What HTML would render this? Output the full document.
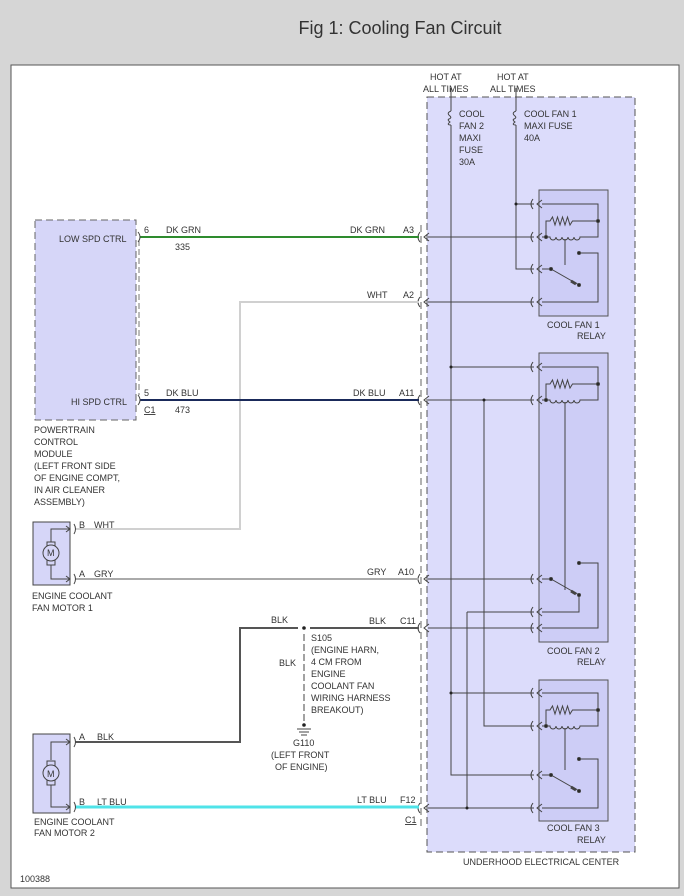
<!DOCTYPE html>
<html><head><meta charset="utf-8"><style>
html,body{margin:0;padding:0;background:#d6d6d6;}
body{width:684px;height:896px;position:relative;overflow:hidden;font-family:"Liberation Sans",sans-serif;}
#t{position:absolute;left:0;top:18px;width:800px;text-align:center;font-size:18px;color:#333;}
svg{position:absolute;left:0;top:0}
text{font-family:"Liberation Sans",sans-serif;font-size:9px;fill:#333}
</style></head><body>
<div id="t">Fig 1: Cooling Fan Circuit</div>
<svg width="684" height="896" viewBox="0 0 684 896">
<defs>
<g id="hk" fill="none" stroke="#444" stroke-width="1"><path d="M-4,-5 Q-8,0 -4,5"/><path d="M5,-4 L0,0 L5,4"/></g>
<g id="coil" fill="none" stroke="#444" stroke-width="1">
<path d="M542,0 H546 V-16 H550 l2.5,-4 l2.5,8 l2.5,-8 l2.5,8 l2.5,-8 l2.5,8 l2.5,-8 l2.5,8 l2.5,-4 H598"/>
<path d="M546,0 H550 a3,3 0 0 0 6,0 a3,3 0 0 0 6,0 a3,3 0 0 0 6,0 a3,3 0 0 0 6,0 a3,3 0 0 0 6,0 H598 V-33 H542"/>
<circle cx="546" cy="0" r="1.5" fill="#222"/><circle cx="598" cy="-16" r="1.5" fill="#222"/>
</g>
<g id="sw" fill="none" stroke="#444" stroke-width="1">
<path d="M542,0 H551 L579,16"/><circle cx="551" cy="0" r="1.5" fill="#222"/><circle cx="579" cy="16" r="1.5" fill="#222"/>
<path d="M571,12 l5,3" stroke-width="3"/>
<circle cx="579" cy="-16" r="1.5" fill="#222"/>
</g>
</defs>
<rect x="11" y="65" width="668" height="823" fill="#fff" stroke="#555"/>
<rect x="427" y="97" width="208" height="755" fill="#dcdcfb" stroke="#555" stroke-dasharray="7,4"/>
<line x1="421" y1="225" x2="421" y2="830" stroke="#666" stroke-dasharray="7,4"/>
<rect x="539" y="190" width="69" height="126" fill="#cdcdf6" stroke="#555"/>
<rect x="539" y="353" width="69" height="289" fill="#cdcdf6" stroke="#555"/>
<rect x="539" y="680" width="69" height="141" fill="#cdcdf6" stroke="#555"/>
<g fill="none" stroke="#444" stroke-width="1">
<path d="M451,88 V111 M451,125 V775 H534"/>
<path d="M451,111 q-5,2 -1,5 q2,2 -1,3 q-2,1 1,3 q-4,3 1,3"/>
<path d="M516,88 V111 M516,125 V269 H534 M516,204 H534"/>
<path d="M516,111 q-5,2 -1,5 q2,2 -1,3 q-2,1 1,3 q-4,3 1,3"/>
<path d="M451,367 H534 M451,693 H534"/>
<path d="M428,237 H534 M428,302 H534 M428,400 H534 M484,400 V726 H534"/>
<path d="M428,579 H534 M428,628 H534 M467,612 H534 M467,612 V808 M428,808 H534"/>
<path d="M565,239 V265 M579,253 H598 V302 H542" stroke-dasharray="none"/>
<path d="M565,402 V590 M579,563 H598 V628 H542 M579,595 V612 H542"/>
<path d="M565,728 V770 M579,759 H598 V808 H542"/>
</g>
<circle cx="516" cy="204" r="1.5" fill="#222"/><circle cx="451" cy="367" r="1.5" fill="#222"/><circle cx="484" cy="400" r="1.5" fill="#222"/><circle cx="451" cy="693" r="1.5" fill="#222"/><circle cx="467" cy="808" r="1.5" fill="#222"/>
<use href="#coil" y="237"/><use href="#coil" y="400"/><use href="#coil" y="726"/>
<use href="#sw" y="269"/><use href="#sw" y="579"/><use href="#sw" y="775"/>
<g>
<use href="#hk" x="537" y="204"/><use href="#hk" x="537" y="237"/><use href="#hk" x="537" y="269"/><use href="#hk" x="537" y="302"/>
<use href="#hk" x="537" y="367"/><use href="#hk" x="537" y="400"/><use href="#hk" x="537" y="579"/><use href="#hk" x="537" y="612"/><use href="#hk" x="537" y="628"/>
<use href="#hk" x="537" y="693"/><use href="#hk" x="537" y="726"/><use href="#hk" x="537" y="775"/><use href="#hk" x="537" y="808"/>
<use href="#hk" x="424" y="237"/><use href="#hk" x="424" y="302"/><use href="#hk" x="424" y="400"/><use href="#hk" x="424" y="579"/><use href="#hk" x="424" y="628"/><use href="#hk" x="424" y="808"/>
</g>
<line x1="140" y1="237" x2="419" y2="237" stroke="#2e8b2e" stroke-width="2"/>
<path d="M419,302 H240 V529 H75" fill="none" stroke="#d0d0d0" stroke-width="2"/>
<line x1="140" y1="400" x2="419" y2="400" stroke="#1a2a5a" stroke-width="2"/>
<line x1="75" y1="579" x2="419" y2="579" stroke="#aaa" stroke-width="2"/>
<line x1="310" y1="628" x2="419" y2="628" stroke="#555" stroke-width="2"/>
<path d="M298,628 H240 V742 H75" fill="none" stroke="#555" stroke-width="2"/>
<line x1="75" y1="807" x2="419" y2="807" stroke="#4fe3e8" stroke-width="3"/>
<circle cx="304" cy="628" r="1.8" fill="#222"/>
<line x1="304" y1="634" x2="304" y2="724" stroke="#444" stroke-dasharray="7,3"/>
<circle cx="304" cy="725" r="1.8" fill="#222"/>
<path d="M297,729 H311 M299,732 H309 M301,735 H307" stroke="#444"/>
<rect x="35" y="220" width="101" height="200" fill="#d6d6f8" stroke="#666" stroke-dasharray="7,4"/>
<line x1="139" y1="240" x2="139" y2="395" stroke="#777" stroke-dasharray="6,3"/>
<path d="M138,232 q4,5 0,10 M138,395 q4,5 0,10" fill="none" stroke="#444"/>
<g fill="none" stroke="#444">
<rect x="33" y="522" width="37" height="63" fill="#d6d6f8"/>
<path d="M51,542 V529 H70 M66,526 l4,3 l-4,3 M51,565 V579 H70 M66,576 l4,3 l-4,3"/>
<rect x="47" y="542" width="8" height="23" fill="#d6d6f8"/><circle cx="51" cy="553" r="8" fill="#d6d6f8"/>
<path d="M74,524 q3,5 0,10 M74,574 q3,5 0,10"/>
<rect x="33" y="734" width="37" height="79" fill="#d6d6f8"/>
<path d="M51,760 V742 H70 M66,739 l4,3 l-4,3 M51,785 V807 H70 M66,804 l4,3 l-4,3"/>
<rect x="47" y="761" width="8" height="24" fill="#d6d6f8"/><circle cx="51" cy="773" r="8" fill="#d6d6f8"/>
<path d="M74,737 q3,5 0,10 M74,802 q3,5 0,10"/>
</g>
<text x="47" y="556" font-size="8">M</text><text x="47" y="777" font-size="8">M</text>
<text x="430" y="80">HOT AT</text><text x="423" y="92">ALL TIMES</text>
<text x="497" y="80">HOT AT</text><text x="490" y="92">ALL TIMES</text>
<text x="459" y="117">COOL</text><text x="459" y="129">FAN 2</text><text x="459" y="141">MAXI</text><text x="459" y="153">FUSE</text><text x="459" y="165">30A</text>
<text x="524" y="117">COOL FAN 1</text><text x="524" y="129">MAXI FUSE</text><text x="524" y="141">40A</text>
<text x="547" y="328">COOL FAN 1</text><text x="577" y="339">RELAY</text>
<text x="547" y="654">COOL FAN 2</text><text x="577" y="665">RELAY</text>
<text x="547" y="831">COOL FAN 3</text><text x="577" y="843">RELAY</text>
<text x="463" y="865">UNDERHOOD ELECTRICAL CENTER</text>
<text x="403" y="233">A3</text><text x="403" y="298">A2</text><text x="399" y="396">A11</text><text x="398" y="575">A10</text><text x="400" y="624">C11</text><text x="400" y="803">F12</text>
<text x="405" y="823" text-decoration="underline">C1</text>
<text x="350" y="233">DK GRN</text><text x="367" y="298">WHT</text><text x="353" y="396">DK BLU</text><text x="367" y="575">GRY</text><text x="369" y="624">BLK</text><text x="357" y="803">LT BLU</text>
<text x="59" y="242">LOW SPD CTRL</text><text x="71" y="405">HI SPD CTRL</text>
<text x="144" y="233">6</text><text x="166" y="233">DK GRN</text><text x="175" y="250">335</text>
<text x="144" y="396">5</text><text x="166" y="396">DK BLU</text><text x="175" y="413">473</text>
<text x="144" y="413" text-decoration="underline">C1</text>
<text x="34" y="433">POWERTRAIN</text><text x="34" y="445">CONTROL</text><text x="34" y="457">MODULE</text><text x="34" y="469">(LEFT FRONT SIDE</text><text x="34" y="481">OF ENGINE COMPT,</text><text x="34" y="493">IN AIR CLEANER</text><text x="34" y="505">ASSEMBLY)</text>
<text x="79" y="528">B</text><text x="94" y="528">WHT</text><text x="79" y="577">A</text><text x="94" y="577">GRY</text>
<text x="32" y="599">ENGINE COOLANT</text><text x="32" y="611">FAN MOTOR 1</text>
<text x="271" y="623">BLK</text><text x="279" y="666">BLK</text>
<text x="311" y="641">S105</text><text x="311" y="653">(ENGINE HARN,</text><text x="311" y="665">4 CM FROM</text><text x="311" y="677">ENGINE</text><text x="311" y="689">COOLANT FAN</text><text x="311" y="701">WIRING HARNESS</text><text x="311" y="713">BREAKOUT)</text>
<text x="293" y="746">G110</text><text x="271" y="758">(LEFT FRONT</text><text x="275" y="770">OF ENGINE)</text>
<text x="79" y="740">A</text><text x="97" y="740">BLK</text><text x="79" y="805">B</text><text x="97" y="805">LT BLU</text>
<text x="34" y="825">ENGINE COOLANT</text><text x="34" y="836">FAN MOTOR 2</text>
<text x="20" y="882">100388</text>
</svg>
</body></html>
